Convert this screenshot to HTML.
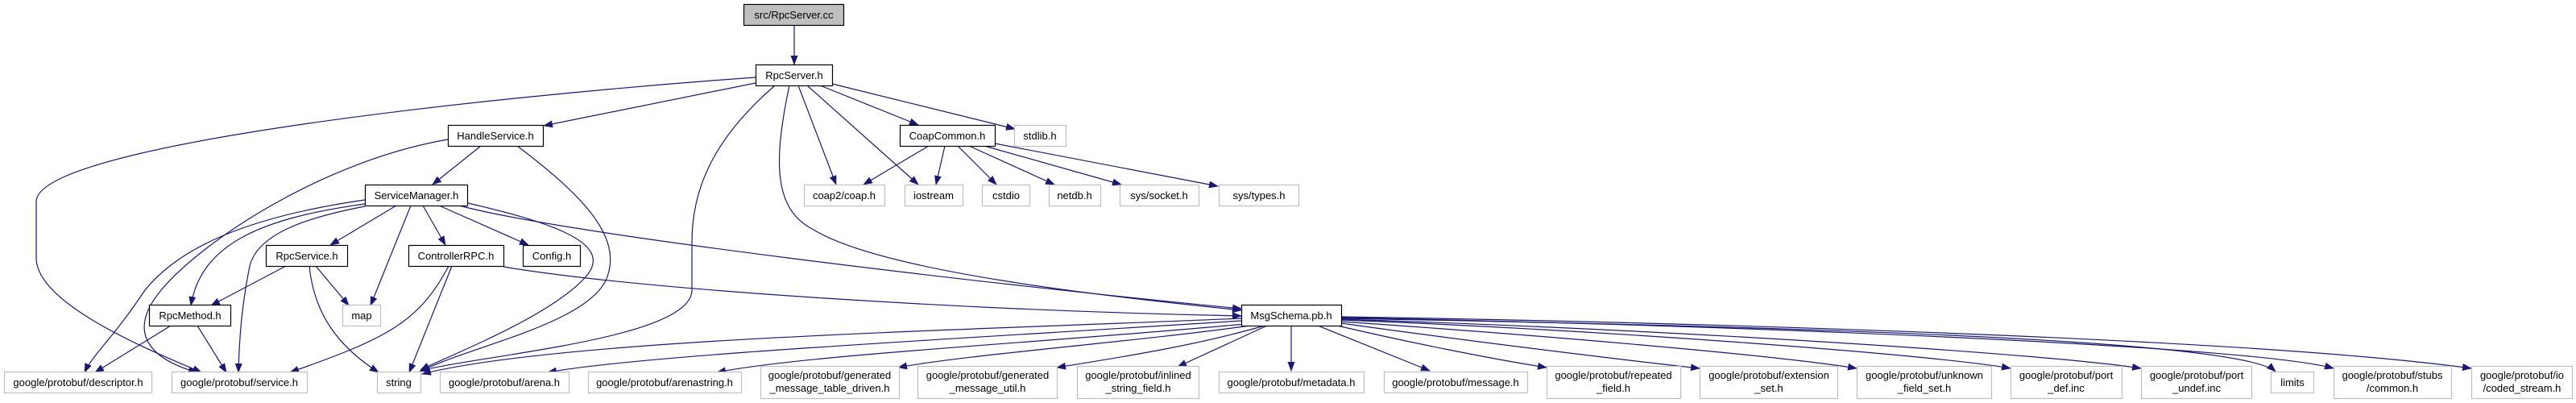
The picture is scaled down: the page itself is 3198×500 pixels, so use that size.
<!DOCTYPE html>
<html><head><meta charset="utf-8"><style>
html,body{margin:0;padding:0;background:#fff;}
svg{display:block;}
text{font-family:"Liberation Sans",Helvetica,Arial,sans-serif;font-size:13px;fill:#000;}
</style></head><body>
<svg width="3198" height="500" viewBox="0 0 3198 500" xmlns="http://www.w3.org/2000/svg">
<defs>
<marker id="a" markerWidth="12" markerHeight="9" refX="11" refY="4.5" orient="auto" markerUnits="userSpaceOnUse">
<path d="M0,0 L12,4.5 L0,9 Z" fill="#191970"/>
</marker>
</defs>
<g fill="none" stroke="#191970" stroke-width="1.2" marker-end="url(#a)">
<path d="M986,31 L986,80"/>
<path d="M938,103 L675,156"/>
<path d="M938,96 C600,120 45,180 45,250 L45,320 C45,380 200,440 250,462"/>
<path d="M962,106 C900,160 859,220 859,300 L859,360 C859,420 600,440 522,460"/>
<path d="M980,106 C960,200 960,260 1010,285 C1100,340 1400,370 1541,385"/>
<path d="M991,106 L1038,229"/>
<path d="M1002,106 L1140,229"/>
<path d="M1018,106 L1140,155"/>
<path d="M1033,104 L1260,160"/>
<path d="M1153,181 L1072,229"/>
<path d="M1173,181 L1162,229"/>
<path d="M1189,181 L1237,229"/>
<path d="M1203,181 L1309,229"/>
<path d="M1222,181 L1392,229"/>
<path d="M1235,178 L1512,231"/>
<path d="M597,181 L537,229"/>
<path d="M556,173 C400,200 250,300 200,360 C150,420 200,450 245,462"/>
<path d="M642,181 C720,240 770,290 755,340 C740,400 580,430 522,461"/>
<path d="M492,255 L410,304"/>
<path d="M510,255 L460,379"/>
<path d="M525,255 L553,304"/>
<path d="M545,255 L656,304"/>
<path d="M570,255 C700,290 1200,350 1541,383"/>
<path d="M581,252 C680,275 760,300 730,340 C690,390 560,440 522,459"/>
<path d="M453,253 C330,270 250,300 237,379"/>
<path d="M453,248 C300,270 220,310 180,360 C140,420 115,440 105,462"/>
<path d="M453,256 C380,270 320,290 310,330 C300,380 297,420 296,462"/>
<path d="M355,330 L262,379"/>
<path d="M392,330 L433,379"/>
<path d="M384,330 C390,390 420,430 470,462"/>
<path d="M557,330 C520,400 480,420 360,462"/>
<path d="M561,330 L508,462"/>
<path d="M625,331 C800,360 1200,385 1541,392"/>
<path d="M212,404 L118,462"/>
<path d="M245,404 L281,462"/>
<path d="M1541,395 C1200,410 700,420 524,464"/>
<path d="M1541,398 C1200,420 800,440 680,462"/>
<path d="M1545,402 C1300,425 1000,440 890,462"/>
<path d="M1552,404 C1400,425 1200,440 1115,456"/>
<path d="M1570,404 C1480,430 1380,445 1312,456"/>
<path d="M1573,404 L1462,455"/>
<path d="M1603,404 L1603,460"/>
<path d="M1636,404 L1775,460"/>
<path d="M1660,404 C1750,425 1850,445 1920,456"/>
<path d="M1665,401 C1800,420 2000,445 2110,457"/>
<path d="M1665,399 C1900,415 2200,440 2305,457"/>
<path d="M1665,397 C2000,410 2400,440 2496,457"/>
<path d="M1665,396 C2100,410 2550,440 2658,457"/>
<path d="M1665,395 C2200,405 2780,420 2825,461"/>
<path d="M1665,394 C2200,405 2800,430 2897,457"/>
<path d="M1665,393 C2100,400 2800,420 3068,457"/>
</g>
<g stroke-width="1.2">
<rect x="923.5" y="5.5" width="124" height="26" fill="#bfbfbf" stroke="#000"/>
<g fill="#fff" stroke="#000">
<rect x="938.5" y="80.5" width="95" height="26"/>
<rect x="556.5" y="155.5" width="118" height="26"/>
<rect x="1117.5" y="155.5" width="118" height="26"/>
<rect x="453.5" y="229.5" width="127" height="26"/>
<rect x="330.5" y="304.5" width="101" height="26"/>
<rect x="507.5" y="304.5" width="118" height="26"/>
<rect x="649.5" y="304.5" width="71" height="26"/>
<rect x="185.5" y="378.5" width="101" height="26"/>
<rect x="1541.5" y="378.5" width="124" height="26"/>
</g>
<g fill="#fff" stroke="#bfbfbf">
<rect x="1259.5" y="155.5" width="64" height="26"/>
<rect x="998.5" y="229.5" width="100" height="26"/>
<rect x="1123.5" y="229.5" width="72" height="26"/>
<rect x="1219.5" y="229.5" width="59" height="26"/>
<rect x="1302.5" y="229.5" width="64" height="26"/>
<rect x="1390.5" y="229.5" width="98" height="26"/>
<rect x="1513.5" y="229.5" width="99" height="26"/>
<rect x="425.5" y="378.5" width="47" height="26"/>
<rect x="5.5" y="461.5" width="183" height="26"/>
<rect x="213.5" y="461.5" width="168" height="26"/>
<rect x="468.5" y="461.5" width="54" height="26"/>
<rect x="546.5" y="461.5" width="160" height="26"/>
<rect x="730.5" y="461.5" width="190" height="26"/>
<rect x="944.5" y="454.5" width="172" height="40"/>
<rect x="1139.5" y="454.5" width="173" height="40"/>
<rect x="1337.5" y="454.5" width="151" height="40"/>
<rect x="1513.5" y="461.5" width="180" height="26"/>
<rect x="1718.5" y="461.5" width="178" height="26"/>
<rect x="1920.5" y="454.5" width="166" height="40"/>
<rect x="2110.5" y="454.5" width="171" height="40"/>
<rect x="2305.5" y="454.5" width="167" height="40"/>
<rect x="2496.5" y="454.5" width="138" height="40"/>
<rect x="2658.5" y="454.5" width="137" height="40"/>
<rect x="2819.5" y="461.5" width="53" height="26"/>
<rect x="2897.5" y="454.5" width="146" height="40"/>
<rect x="3068.5" y="454.5" width="125" height="40"/>
</g>
</g>
<g text-anchor="middle">
<text x="985.5" y="23">src/RpcServer.cc</text>
<text x="986" y="98">RpcServer.h</text>
<text x="615" y="173">HandleService.h</text>
<text x="1176" y="173">CoapCommon.h</text>
<text x="517" y="247">ServiceManager.h</text>
<text x="381" y="322">RpcService.h</text>
<text x="566" y="322">ControllerRPC.h</text>
<text x="685" y="322">Config.h</text>
<text x="236" y="396">RpcMethod.h</text>
<text x="1603" y="396">MsgSchema.pb.h</text>
<text x="1291" y="173">stdlib.h</text>
<text x="1048" y="247">coap2/coap.h</text>
<text x="1159" y="247">iostream</text>
<text x="1249" y="247">cstdio</text>
<text x="1334" y="247">netdb.h</text>
<text x="1439" y="247">sys/socket.h</text>
<text x="1563" y="247">sys/types.h</text>
<text x="449" y="396">map</text>
<text x="97" y="479">google/protobuf/descriptor.h</text>
<text x="297" y="479">google/protobuf/service.h</text>
<text x="495" y="479">string</text>
<text x="626" y="479">google/protobuf/arena.h</text>
<text x="825" y="479">google/protobuf/arenastring.h</text>
<text x="1030" y="470">google/protobuf/generated</text>
<text x="1030" y="486">_message_table_driven.h</text>
<text x="1226" y="470">google/protobuf/generated</text>
<text x="1226" y="486">_message_util.h</text>
<text x="1413" y="470">google/protobuf/inlined</text>
<text x="1413" y="486">_string_field.h</text>
<text x="1603" y="479">google/protobuf/metadata.h</text>
<text x="1807" y="479">google/protobuf/message.h</text>
<text x="2003" y="470">google/protobuf/repeated</text>
<text x="2003" y="486">_field.h</text>
<text x="2196" y="470">google/protobuf/extension</text>
<text x="2196" y="486">_set.h</text>
<text x="2389" y="470">google/protobuf/unknown</text>
<text x="2389" y="486">_field_set.h</text>
<text x="2565" y="470">google/protobuf/port</text>
<text x="2565" y="486">_def.inc</text>
<text x="2727" y="470">google/protobuf/port</text>
<text x="2727" y="486">_undef.inc</text>
<text x="2846" y="479">limits</text>
<text x="2970" y="470">google/protobuf/stubs</text>
<text x="2970" y="486">/common.h</text>
<text x="3131" y="470">google/protobuf/io</text>
<text x="3131" y="486">/coded_stream.h</text>
</g>
</svg>
</body></html>
